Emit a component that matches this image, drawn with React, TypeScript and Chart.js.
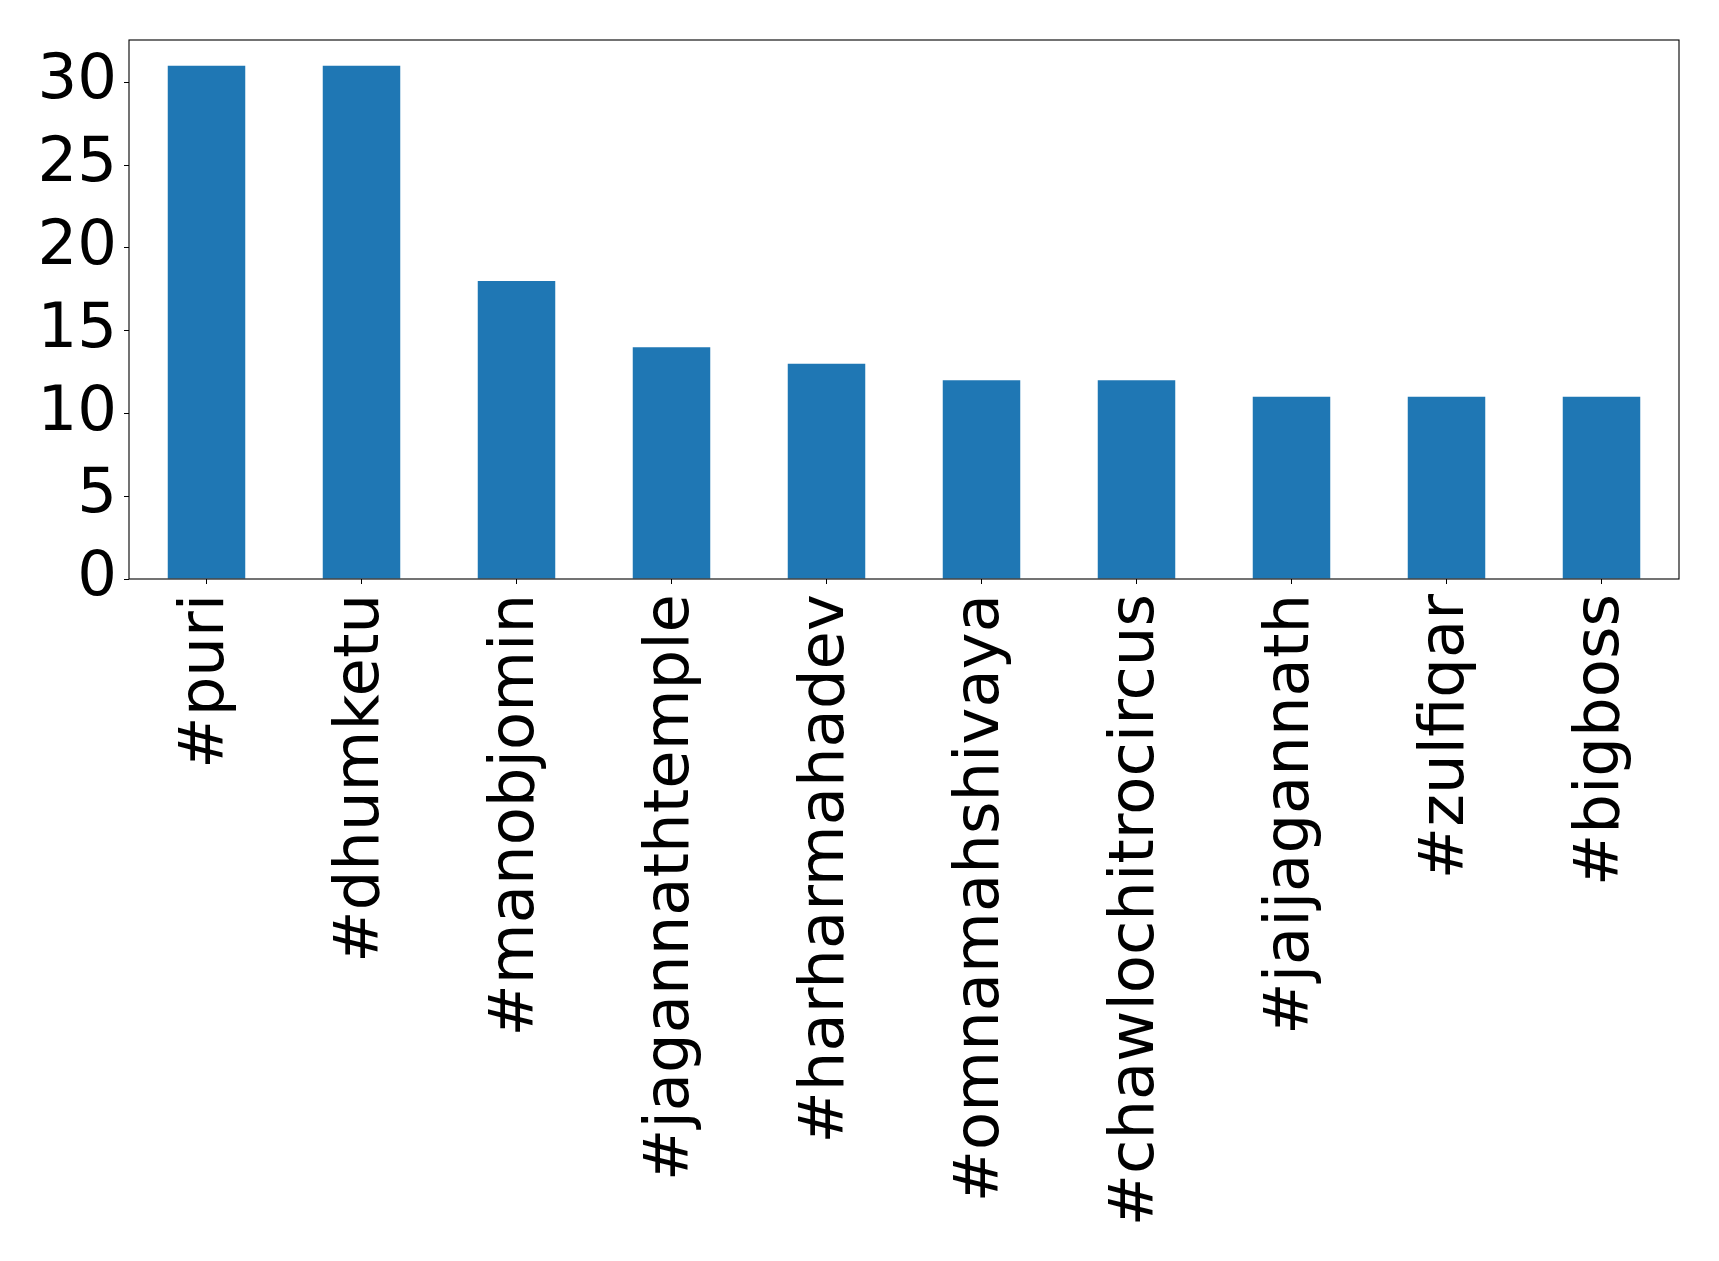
import React, { useEffect, useRef } from "react";
import { Chart, registerables } from "chart.js";

Chart.register(...registerables);

const categories = [
  "#puri",
  "#dhumketu",
  "#manobjomin",
  "#jagannathtemple",
  "#harharmahadev",
  "#omnamahshivaya",
  "#chawlochitrocircus",
  "#jaijagannath",
  "#zulfiqar",
  "#bigboss",
];
const counts = [31, 31, 18, 14, 13, 12, 12, 11, 11, 11];
const yTicks = [0, 5, 10, 15, 20, 25, 30];

const W = 1719;
const H = 1261;

const framePlugin = {
  id: "frame",
  afterDraw(chart: any) {
    const { ctx, chartArea } = chart;
    ctx.save();
    ctx.strokeStyle = "#000";
    ctx.lineWidth = 1.1;
    ctx.strokeRect(chartArea.left, chartArea.top, chartArea.right - chartArea.left, chartArea.bottom - chartArea.top);
    ctx.restore();
  },
};

export default function App() {
  const ref = useRef<HTMLCanvasElement | null>(null);
  useEffect(() => {
    document.body.style.margin = "0";
    const canvas = ref.current!;
    const maxVal = Math.max(...counts) * 1.05;
    const chart = new Chart(canvas, {
      type: "bar",
      data: {
        labels: categories,
        datasets: [
          {
            data: counts,
            backgroundColor: "#1f77b4",
            borderWidth: 0,
            categoryPercentage: 1,
            barPercentage: 0.5,
          },
        ],
      },
      plugins: [framePlugin],
      options: {
        animation: false,
        responsive: false,
        devicePixelRatio: 1,
        layout: { padding: { top: 40, right: 40, left: 0, bottom: 0 } },
        plugins: { legend: { display: false }, tooltip: { enabled: false } },
        scales: {
          x: {
            border: { display: false },
            grid: { display: true, drawOnChartArea: false, drawTicks: true, tickLength: 5, color: "#000", offset: false },
            ticks: {
              color: "#000",
              font: { family: "DejaVu Sans", size: 62.5 },
              maxRotation: 90,
              minRotation: 90,
              autoSkip: false,
              padding: 10,
            },
            afterFit(scale: any) {
              scale.height = H - 579;
              scale.paddingLeft = 0;
              scale.paddingRight = 0;
            },
          },
          y: {
            min: 0,
            max: maxVal,
            border: { display: false },
            grid: { display: true, drawOnChartArea: false, drawTicks: true, tickLength: 5, color: "#000" },
            ticks: {
              color: "#000",
              font: { family: "DejaVu Sans", size: 62.5 },
              padding: 7,
            },
            afterBuildTicks(scale: any) {
              scale.ticks = yTicks.map((v) => ({ value: v }));
            },
            afterFit(scale: any) {
              scale.width = 129;
              scale.paddingTop = 0;
              scale.paddingBottom = 0;
            },
          },
        },
      },
    });
    return () => chart.destroy();
  }, []);
  return <canvas ref={ref} width={W} height={H} style={{ display: "block", width: W, height: H }} />;
}
